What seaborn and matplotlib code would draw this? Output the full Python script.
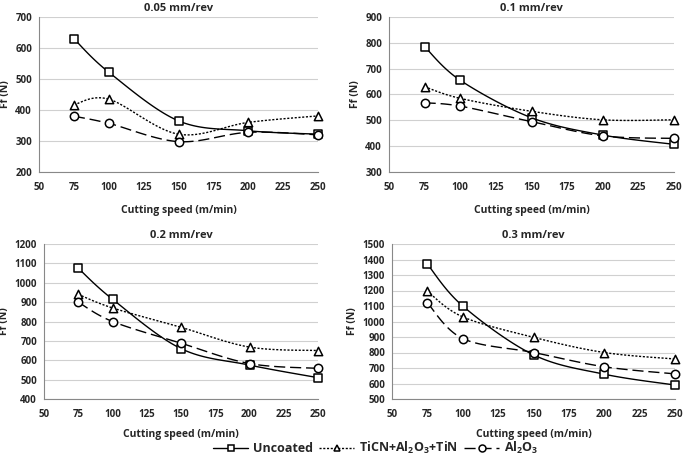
import numpy as np
import matplotlib
matplotlib.use("Agg")
import matplotlib.pyplot as plt
import seaborn as sns
from matplotlib.lines import Line2D

sns.set_style("white")
plt.rcParams['font.family'] = ['Open Sans', 'DejaVu Sans']
plt.rcParams['font.weight'] = 'bold'
plt.rcParams['mathtext.default'] = 'regular'

# Data
speed = [75, 100, 150, 200, 250]
feeds = ["0.05 mm/rev", "0.1 mm/rev", "0.2 mm/rev", "0.3 mm/rev"]
uncoated = [[630, 522, 365, 333, 322],
            [785, 655, 510, 443, 407],
            [1075, 915, 660, 575, 510],
            [1370, 1100, 785, 660, 590]]
ticn = [[417, 435, 322, 360, 381],
        [630, 585, 535, 502, 502],
        [940, 870, 770, 668, 650],
        [1195, 1030, 898, 800, 758]]
al2o3 = [[380, 357, 298, 328, 320],
         [568, 555, 495, 440, 430],
         [900, 800, 688, 583, 558],
         [1120, 890, 800, 708, 662]]
y_ranges = [(200, 700, 100), (300, 900, 100), (400, 1200, 100), (500, 1500, 100)]
series_names = ["Uncoated", "TiCN+Al$_2$O$_3$+TiN", "Al$_2$O$_3$"]

styles = [dict(ls='-', marker='s', ms=6),
          dict(ls=(0, (1.5, 1.2)), marker='^', ms=6),
          dict(ls=(0, (8, 3.5)), marker='o', ms=6)]


def smooth(x, y, n=30):
    # Excel-style smoothed line (Bezier through the points)
    x = np.asarray(x, float)
    y = np.asarray(y, float)
    p = np.column_stack([x, y])
    pts = [p[0]] + list(p) + [p[-1]]
    out = []
    t = np.linspace(0, 1, n)[:, None]
    for i in range(1, len(pts) - 2):
        p0, p1, p2, p3 = pts[i - 1], pts[i], pts[i + 1], pts[i + 2]
        c1 = p1 + (p2 - p0) / 6
        c2 = p2 - (p3 - p1) / 6
        seg = ((1 - t) ** 3) * p1 + 3 * ((1 - t) ** 2) * t * c1 + 3 * (1 - t) * t ** 2 * c2 + t ** 3 * p2
        out.append(seg)
    c = np.vstack(out)
    return c[:, 0], c[:, 1]


fig = plt.figure(figsize=(6.85, 4.58), dpi=100)
W, H = 685, 458
boxes = [(39, 318, 17, 172), (389, 674, 17, 172), (44, 318, 244, 399), (392, 675, 244, 399)]

for k, (l, r, t, b) in enumerate(boxes):
    ax = fig.add_axes([l / W, 1 - b / H, (r - l) / W, (b - t) / H])
    for j, vals in enumerate([uncoated[k], ticn[k], al2o3[k]]):
        st = styles[j]
        xs, ys = smooth(speed, vals)
        ax.plot(xs, ys, color='black', lw=1.0, ls=st['ls'], zorder=2, clip_on=False)
        sns.scatterplot(x=speed, y=vals, ax=ax, marker=st['marker'], s=st['ms'] ** 2,
                        facecolor='white', edgecolor='black', linewidth=1.1, zorder=3, clip_on=False)
    lo, hi, step = y_ranges[k]
    ax.set_ylim(lo, hi)
    ax.set_yticks(np.arange(lo, hi + 1, step))
    ax.set_xlim(50, 250)
    ax.set_xticks(np.arange(50, 251, 25))
    ax.grid(axis='y', color='#d0d0d0', lw=0.8)
    ax.set_axisbelow(True)
    for s in ['top', 'right']:
        ax.spines[s].set_visible(False)
    for s in ['left', 'bottom']:
        ax.spines[s].set_color('#888888')
        ax.spines[s].set_linewidth(0.8)
    ax.tick_params(axis='both', labelsize=7, length=3, width=0.8, color='#888888', direction='out', pad=2)
    ax.tick_params(axis='x', pad=4)
    for lab in ax.get_xticklabels() + ax.get_yticklabels():
        lab.set_fontweight('bold')
    ax.set_title(feeds[k], fontsize=8, fontweight='bold', pad=4)
    ax.set_xlabel("Cutting speed (m/min)", fontsize=7.5, fontweight='bold', labelpad=9 if k < 2 else 7)
    ax.set_ylabel("Ff (N)", fontsize=7.5, fontweight='bold', labelpad=3)

handles = [Line2D([0], [0], color='black', lw=1.0, ls=styles[j]['ls'], marker=styles[j]['marker'],
                  ms=5, mfc='white', mec='black', mew=1.1) for j in range(3)]
fig.legend(handles, series_names, loc='center', bbox_to_anchor=(376 / W, 1 - 448 / H), ncol=3,
           frameon=False, handlelength=2.8, columnspacing=0.5, handletextpad=0.4,
           prop={'weight': 'bold', 'size': 9})

fig.savefig("out.png", dpi=100)
